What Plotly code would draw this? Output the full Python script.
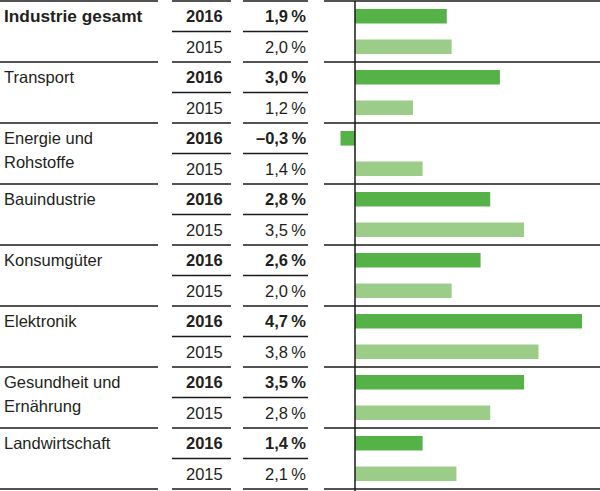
import plotly.graph_objects as go

categories = ["Industrie gesamt", "Transport", "Energie und\nRohstoffe", "Bauindustrie",
              "Konsumgüter", "Elektronik", "Gesundheit und\nErnährung", "Landwirtschaft"]
years = ["2016", "2015"]
values_2016 = [1.9, 3.0, -0.3, 2.8, 2.6, 4.7, 3.5, 1.4]
values_2015 = [2.0, 1.2, 1.4, 3.5, 2.0, 3.8, 2.8, 2.1]

W, H = 600, 491
ROW_PX = 30.5
TOP_PX = 1.0
n_rows = 2 * len(categories)
y_top = -0.5 - TOP_PX / ROW_PX
y_bot = (H - TOP_PX) / ROW_PX - 0.5

PX_PER_PCT = 48.3
ZERO_PX = 355
BAR_LEFT, BAR_RIGHT = 324, 600
x_min = (BAR_LEFT - ZERO_PX) / PX_PER_PCT
x_max = (BAR_RIGHT - ZERO_PX) / PX_PER_PCT

DARK = "#54B247"
LIGHT = "#9BCD89"
INK = "#231F20"
LINE = "#1A1A1A"
FONT = "Liberation Sans, Arial, sans-serif"
FS = 16.5

rows_2016 = [2 * i for i in range(len(categories))]
rows_2015 = [2 * i + 1 for i in range(len(categories))]

fig = go.Figure()
fig.add_trace(go.Bar(x=values_2016, y=rows_2016, orientation="h", width=0.48,
                     marker=dict(color=DARK, line=dict(width=0)), hoverinfo="skip"))
fig.add_trace(go.Bar(x=values_2015, y=rows_2015, orientation="h", width=0.48,
                     marker=dict(color=LIGHT, line=dict(width=0)), hoverinfo="skip"))

def fmt(v):
    s = f"{v:.1f}".replace(".", ",").replace("-", "\u2013")
    return s + "\u2009%"

shapes = []
annotations = []

def px(x):
    return x / W

# horizontal lines
for b in range(n_rows + 1):
    yb = b - 0.5
    major = (b % 2 == 0)
    segs = [(172, 231), (243, 308)]
    if major:
        segs = [(0, 158)] + segs + [(BAR_LEFT, BAR_RIGHT)]
    for x0, x1 in segs:
        shapes.append(dict(type="line", xref="paper", yref="y", x0=px(x0), x1=px(x1),
                           y0=yb, y1=yb, line=dict(color=LINE, width=1.5)))
# axis line at zero
shapes.append(dict(type="line", xref="x", yref="y", x0=0, x1=0, y0=-0.5, y1=y_bot,
                   line=dict(color=LINE, width=1.5)))

for i, cat in enumerate(categories):
    lines = cat.split("\n")
    for k, ln in enumerate(lines):
        annotations.append(dict(xref="paper", yref="y", x=px(2), y=2 * i + k * 24 / ROW_PX,
                                text=("<b>%s</b>" % ln) if i == 0 else ln,
                                showarrow=False, xanchor="left", yanchor="middle",
                                font=dict(family=FONT, size=(17.3 if i == 0 else FS), color=INK)))
    for j, (yr, vals) in enumerate(zip(years, [values_2016, values_2015])):
        r = 2 * i + j
        bold = (j == 0)
        yt = ("<b>%s</b>" % yr) if bold else yr
        vt = ("<b>%s</b>" % fmt(vals[i])) if bold else fmt(vals[i])
        annotations.append(dict(xref="paper", yref="y", x=px(225), y=r, text=yt,
                                showarrow=False, xanchor="right", yanchor="middle",
                                font=dict(family=FONT, size=FS, color=INK)))
        annotations.append(dict(xref="paper", yref="y", x=px(308), y=r, text=vt,
                                showarrow=False, xanchor="right", yanchor="middle",
                                font=dict(family=FONT, size=FS, color=INK)))

fig.update_layout(
    width=W, height=H, margin=dict(l=0, r=0, t=0, b=0),
    paper_bgcolor="white", plot_bgcolor="white",
    showlegend=False, barmode="overlay",
    xaxis=dict(domain=[BAR_LEFT / W, 1], range=[x_min, x_max], visible=False, fixedrange=True),
    yaxis=dict(domain=[0, 1], range=[y_bot, y_top], visible=False, fixedrange=True),
    shapes=shapes, annotations=annotations,
)
fig.write_html("out.html", config={"displayModeBar": False},
               post_script="document.body.style.margin='0';document.body.style.overflow='hidden';")
